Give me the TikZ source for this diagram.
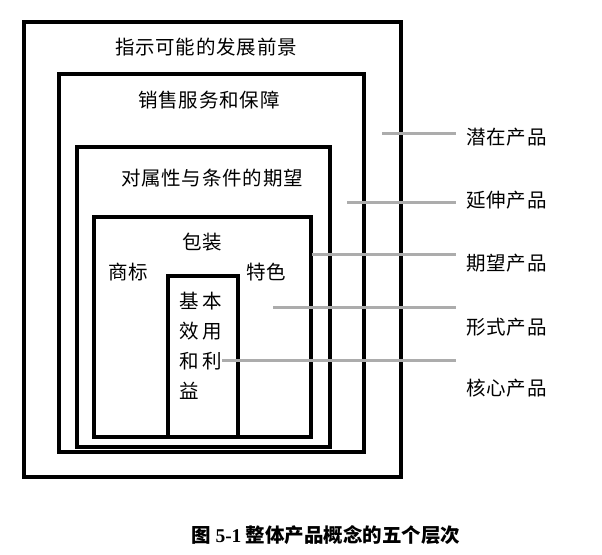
\documentclass[tikz,border=0pt]{standalone}
\usepackage{fontspec}
\setmainfont{Liberation Serif}
\newfontfamily\cjk[LetterSpace=4]{Noto Sans CJK SC}
\newfontfamily\cjkwide[LetterSpace=18]{Noto Sans CJK SC}
\newfontfamily\cjkcap{Noto Sans CJK SC}
\usetikzlibrary{positioning}

\begin{document}
\begin{tikzpicture}[x=1pt, y=-1pt,
    layer/.style={rectangle, draw=black, line width=4.5pt, anchor=north west,
                  inner sep=0pt, outer sep=0pt},
    layer text/.style={inner sep=0pt, font=\cjk\fontsize{19.5}{22}\selectfont},
    level/.style={anchor=west, inner sep=0pt, font=\cjk\fontsize{19.5}{22}\selectfont},
    pointer/.style={draw=gray!65, line width=3pt, shorten >=10pt}
]
\useasboundingbox (0,0) rectangle (602,554);

% Define layers
\node[layer, minimum width=377pt, minimum height=455pt] (potential) at (24,22) {};
\node[layer, minimum width=305pt, minimum height=378pt] (extended) at (59,74) {};
\node[layer, minimum width=253pt, minimum height=300pt] (expected) at (77,147) {};
\node[layer, minimum width=217pt, minimum height=220pt] (formal) at (94,217) {};
\node[layer, minimum width=70pt, minimum height=161pt] (core) at (168,276) {};

% Layer contents
\node[layer text] (potentialText) at (206,47) {指示可能的发展前景};
\node[layer text] (extendedText) at (209,100) {销售服务和保障};
\node[layer text] (expectedText) at (212,178) {对属性与条件的期望};
\node[layer text] (packing) at (202,242) {包装};
\node[layer text] (brand) at (128,272) {商标};
\node[layer text] (feature) at (266,272) {特色};
\node[anchor=north west, align=left, inner sep=0pt,
      font=\cjkwide\fontsize{19.5}{30}\selectfont] (coreText) at (179,292) {基本\\效用\\和利\\益};

% Level names
\node[level] (level1) at (466,137) {潜在产品};
\node[level] (level2) at (466,200) {延伸产品};
\node[level] (level3) at (466,263) {期望产品};
\node[level] (level4) at (466,327) {形式产品};
\node[level] (level5) at (466,388) {核心产品};

% Pointers
\coordinate (p1) at (382,133);
\coordinate (p2) at (347,202);
\coordinate (p3) at (312,254);
\coordinate (p4) at (273,307);
\coordinate (p5) at (222,360);
\draw[pointer] (p1) -- (p1 -| level1.west);
\draw[pointer] (p2) -- (p2 -| level2.west);
\draw[pointer] (p3) -- (p3 -| level3.west);
\draw[pointer] (p4) -- (p4 -| level4.west);
\draw[pointer] (p5) -- (p5 -| level5.west);

% Caption
\node[font=\cjkcap\bfseries\fontsize{19.5}{22}\selectfont] (caption) at (326,535)
    {图 {\rmfamily 5-1} 整体产品概念的五个层次};
\end{tikzpicture}
\end{document}
